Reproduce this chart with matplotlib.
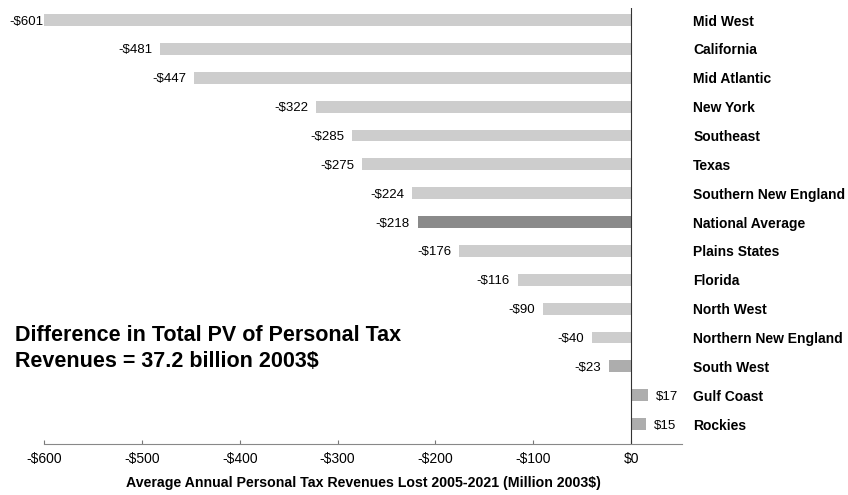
import numpy as np
import matplotlib.pyplot as plt

plt.rcParams['font.family'] = ['Liberation Sans', 'DejaVu Sans']

regions = ['Mid West', 'California', 'Mid Atlantic', 'New York', 'Southeast', 'Texas',
           'Southern New England', 'National Average', 'Plains States', 'Florida',
           'North West', 'Northern New England', 'South West', 'Gulf Coast', 'Rockies']
values = [-601, -481, -447, -322, -285, -275, -224, -218, -176, -116, -90, -40, -23, 17, 15]
ticks = [-600, -500, -400, -300, -200, -100, 0]

colors = []
for r in regions:
    if r == 'National Average':
        colors.append('#8a8a8a')
    elif r in ('South West', 'Gulf Coast', 'Rockies'):
        colors.append('#adadad')
    else:
        colors.append('#cdcdcd')

fig = plt.figure(figsize=(8.48, 4.95), dpi=100)
ax = fig.add_axes([44 / 848, 1 - 444 / 495, (682 - 44) / 848, (444 - 8) / 495])

y = np.arange(len(regions))
ax.barh(y, values, height=0.41, color=colors, edgecolor='none')
ax.axvline(0, color='#333333', lw=0.8)

for yi, v in zip(y, values):
    if v < 0:
        # label squeezed against the bar when it would run off the chart
        gap = 0 if v < -590 else 8
        ax.text(v - gap, yi, f'-${abs(v)}', ha='right', va='center_baseline', fontsize=9.5)
    else:
        ax.text(v + 8, yi, f'${v}', ha='left', va='center_baseline', fontsize=9.5)

ax.set_xlim(-600, 52)
ax.set_ylim(14.69, -0.42)
ax.set_xticks(ticks)
ax.set_xticklabels([f'-${abs(t)}' if t < 0 else f'${t}' for t in ticks], fontsize=10)
ax.tick_params(axis='x', length=3, direction='in', color='#777777', pad=6)

ax.yaxis.tick_right()
ax.set_yticks(y)
ax.set_yticklabels(regions, fontsize=10, fontweight='bold')
ax.tick_params(axis='y', length=0, pad=8)

for s in ['top', 'right', 'left']:
    ax.spines[s].set_visible(False)
ax.spines['bottom'].set_color('#888888')
ax.spines['bottom'].set_linewidth(0.8)

ax.set_xlabel('Average Annual Personal Tax Revenues Lost 2005-2021 (Million 2003$)',
              fontsize=10.2, fontweight='bold', labelpad=7)

fig.text(15 / 848, 1 - 341 / 495, 'Difference in Total PV of Personal Tax',
         fontsize=15.5, fontweight='bold', va='baseline', ha='left')
fig.text(15 / 848, 1 - 367 / 495, 'Revenues = 37.2 billion 2003$',
         fontsize=15.5, fontweight='bold', va='baseline', ha='left')

fig.savefig('out.png', dpi=100)
